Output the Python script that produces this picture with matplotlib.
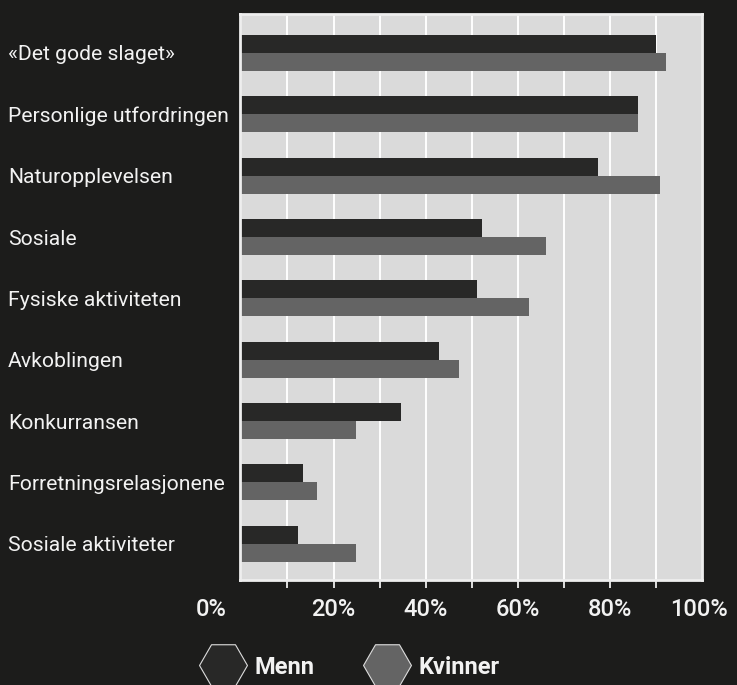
import matplotlib
matplotlib.use("Agg")
import matplotlib.pyplot as plt
import matplotlib.transforms as mtransforms
from matplotlib.lines import Line2D
import numpy as np

categories = ["«Det gode slaget»", "Personlige utfordringen", "Naturopplevelsen",
              "Sosiale", "Fysiske aktiviteten", "Avkoblingen", "Konkurransen",
              "Forretningsrelasjonene", "Sosiale aktiviteter"]
menn = [90.0, 86.0, 77.5, 52.3, 51.2, 43.0, 34.6, 13.3, 12.4]
kvinner = [92.1, 86.0, 90.8, 66.1, 62.4, 47.3, 24.9, 16.5, 24.9]
series_names = ["Menn", "Kvinner"]
xtick_vals = [0, 20, 40, 60, 80, 100]
xtick_labels = ["0%", "20%", "40%", "60%", "80%", "100%"]

BG = "#1c1c1b"
FG = "#f2f2f2"
C_MENN = "#282827"
C_KVIN = "#646464"

plt.rcParams['font.family'] = ['Roboto', 'DejaVu Sans']

W, H = 737, 685
fig = plt.figure(figsize=(W / 100, H / 100), dpi=100, facecolor=BG)
ax = fig.add_axes([240 / W, (H - 580) / H, 462 / W, 566 / H])
ax.set_facecolor("#dadada")

y = np.arange(len(categories))
bh = 0.293
ax.barh(y - bh / 2, menn, height=bh, color=C_MENN, zorder=3)
ax.barh(y + bh / 2, kvinner, height=bh, color=C_KVIN, zorder=3)

ax.set_xlim(-0.3, 99.2)
ax.set_ylim(8.59, -0.635)

for s in ax.spines.values():
    s.set_color("#eeeeee")
    s.set_linewidth(2.0)
    s.set_zorder(4)

# grid and ticks
ax.xaxis.remove_overlapping_locs = False
ax.set_xticks(xtick_vals)
ax.set_xticklabels(xtick_labels)
ax.set_xticks(np.arange(10, 100, 10), minor=True)
ax.grid(False)
ax.xaxis.grid(True, which="minor", color="white", linewidth=1.4, zorder=1)
ax.set_axisbelow(True)
ax.tick_params(axis="x", which="major", length=0, pad=13, labelsize=17,
               labelcolor=FG)
ax.tick_params(axis="x", which="minor", length=6, width=1.3, color="#eeeeee",
               direction="out")
for lab in ax.get_xticklabels():
    lab.set_fontweight("medium")

ax.set_yticks(y)
ax.set_yticklabels(categories)
ax.tick_params(axis="y", length=0, pad=232 * 72 / 100, labelsize=15.2,
               labelcolor=FG)
for lab in ax.get_yticklabels():
    lab.set_horizontalalignment("left")

# shift the 0% and 100% labels as in the reference
ticks = ax.xaxis.get_major_ticks()
ticks[0].label1.set_transform(ticks[0].label1.get_transform() +
                              mtransforms.ScaledTranslation(-30 / 100, 0, fig.dpi_scale_trans))
ticks[-1].label1.set_transform(ticks[-1].label1.get_transform() +
                               mtransforms.ScaledTranslation(-3 / 100, 0, fig.dpi_scale_trans))

handles = [Line2D([], [], linestyle="none", marker="H", markersize=34.5,
                  markerfacecolor=c, markeredgecolor="#dddddd", markeredgewidth=0.8)
           for c in (C_MENN, C_KVIN)]
leg = fig.legend(handles, series_names, loc="center left",
                 bbox_to_anchor=(198 / W, (H - 667) / H), ncol=2, frameon=False,
                 handlelength=2.1, handletextpad=0.3, columnspacing=2.0,
                 borderpad=0, borderaxespad=0,
                 prop={"size": 17, "weight": "bold"})
for t in leg.get_texts():
    t.set_color(FG)

fig.savefig("out.png", dpi=100, facecolor=BG)
